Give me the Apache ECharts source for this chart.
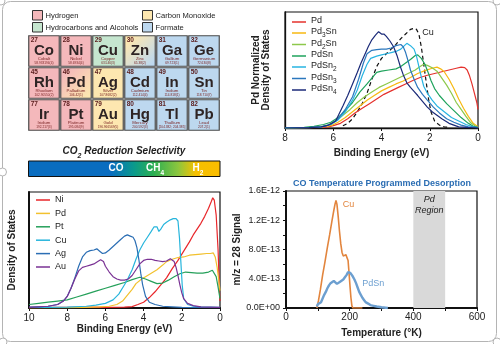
<!DOCTYPE html>
<html>
<head>
<meta charset="utf-8">
<script src="https://cdn.jsdelivr.net/npm/echarts@6/dist/echarts.min.js"></script>
<style>
html, body { margin: 0; padding: 0; background: #fff; }
#chart { width: 500px; height: 344px; }
</style>
</head>
<body>
<div id="chart"></div>
<script>
const FONT = '"Liberation Sans", Arial, sans-serif';

// ---------- Periodic table block ----------
const elementNumbers = [27, 28, 29, 30, 31, 32, 45, 46, 47, 48, 49, 50, 77, 78, 79, 80, 81, 82];
const elementSymbols = ['Co', 'Ni', 'Cu', 'Zn', 'Ga', 'Ge', 'Rh', 'Pd', 'Ag', 'Cd', 'In', 'Sn', 'Ir', 'Pt', 'Au', 'Hg', 'Tl', 'Pb'];
const elementNames = ['Cobalt', 'Nickel', 'Copper', 'Zinc', 'Gallium', 'Germanium', 'Rhodium', 'Palladium', 'Silver',
  'Cadmium', 'Indium', 'Tin', 'Iridium', 'Platinum', 'Gold', 'Mercury', 'Thallium', 'Lead'];
const elementMasses = ['58.933194(4)', '58.6934(4)', '63.546(3)', '65.38(2)', '69.723(1)', '72.630(8)',
  '102.90550(2)', '106.42(1)', '107.8682(2)', '112.414(4)', '114.818(1)', '118.710(7)',
  '192.217(3)', '195.084(9)', '196.966569(5)', '200.592(3)', '[204.382; 204.385]', '207.2(1)'];
const elementProducts = ['H2', 'H2', 'HC', 'CO/HCOO', 'HCOO', 'HCOO', 'H2', 'H2/CO', 'CO', 'HCOO', 'HCOO', 'HCOO',
  'H2', 'H2', 'CO', 'HCOO', 'HCOO', 'HCOO'];
const productColors = { H2: '#f4b8bb', HC: '#c5e6cf', CO: '#fde7b0', HCOO: '#bdd8ef' };
const productLegend = [['Hydrogen', 'H2'], ['Hydrocarbons and Alcohols', 'HC'], ['Carbon Monoxide', 'CO'], ['Formate', 'HCOO']];

// ---------- d-band density of states, pure metals (eV, a.u.) ----------
const metalNames = ['Ni', 'Pd', 'Pt', 'Cu', 'Ag', 'Au'];
const metalColors = ['#e8262a', '#f2c12e', '#25a05a', '#27b5dc', '#2b6eb4', '#7a3294'];
const niDos = [[10,0.5],[9,0.6],[8,0.5],[7,0.8],[6,0.6],[5,0.8],[4.6,1.2],[4.3,3],[4.0,5],[3.7,9],[3.4,14],[3.1,20],
  [2.8,26],[2.5,34],[2.2,41],[1.9,49],[1.6,57],[1.4,63],[1.2,68],[1.0,73],[0.8,79],[0.6,86],[0.45,92],[0.38,95],
  [0.3,93],[0.2,80],[0.1,50],[0.03,15],[0,6]];
const pdDos = [[10,0],[8,0.3],[7,0.5],[6.3,1],[5.8,1.5],[5.4,3],[5.1,6],[4.9,10],[4.6,16],[4.4,21],[4.1,25],[3.9,27],
  [3.6,30],[3.3,33],[3.0,37],[2.8,40],[2.5,42],[2.2,43.5],[1.9,44],[1.6,45.5],[1.3,46],[1.0,46.5],[0.7,47],[0.5,47],
  [0.35,47.5],[0.25,44],[0.15,35],[0.05,22],[0,15]];
const ptDos = [[10,3],[9.5,4],[9,5],[8.5,6],[8,7],[7.5,9.5],[7,12],[6.5,14.5],[6,17],[5.5,19.5],[5,22],[4.6,24.5],
  [4.2,26.5],[3.9,25],[3.6,23],[3.3,21],[3.0,21.5],[2.7,24],[2.4,27],[2.1,29.5],[1.8,31],[1.5,30.5],[1.2,30],
  [0.9,30],[0.6,31],[0.4,32.5],[0.3,32],[0.2,27],[0.1,18],[0,8]];
const cuDos = [[10,0.5],[9,0.5],[8,0.8],[7,1.5],[6.5,2.5],[6,4],[5.6,7],[5.3,12],[5.0,20],[4.8,26],[4.6,33],[4.4,42],
  [4.2,50],[4.0,56],[3.8,61],[3.6,66],[3.45,70],[3.3,70],[3.2,66],[3.1,68],[2.95,72],[2.8,74],[2.6,76],[2.45,77],
  [2.3,77],[2.2,75],[2.12,60],[2.05,40],[1.98,20],[1.9,8],[1.7,3],[1.4,1.5],[1.0,1],[0.5,0.8],[0,0.5]];
const agDos = [[10,0.5],[9.5,1],[9,1.5],[8.5,3],[8.2,6],[8.0,10],[7.8,17],[7.6,26],[7.4,36],[7.2,44],[7.0,48],
  [6.8,49.5],[6.6,50],[6.45,51],[6.3,49],[6.15,47],[6.0,47.5],[5.8,50],[5.6,53],[5.4,56],[5.2,59],[5.0,62],[4.85,63],
  [4.7,62],[4.55,61],[4.45,58],[4.35,52],[4.25,42],[4.15,30],[4.05,20],[3.9,10],[3.7,5],[3.4,3],[3.0,1.5],[2.5,1],
  [2,0.5],[0,0.3]];
const auDos = [[10,0.5],[9,1.5],[8.5,3],[8.2,6],[8.0,10],[7.8,17],[7.6,25],[7.4,32],[7.2,35],[7.0,36],[6.8,37],
  [6.6,38],[6.4,40],[6.25,41.5],[6.1,40],[6.0,36],[5.8,31],[5.6,27],[5.4,25],[5.2,24],[5.0,24],[4.8,25],[4.6,28],
  [4.4,33],[4.2,38],[4.0,41],[3.8,42],[3.6,42],[3.4,41],[3.2,40.5],[3.0,40],[2.8,40.5],[2.6,42.5],[2.5,43],[2.4,40],
  [2.3,35],[2.2,28],[2.1,20],[2.0,13],[1.9,8],[1.7,4],[1.4,2],[1.0,1],[0,0.5]];
const metalDos = [niDos, pdDos, ptDos, cuDos, agDos, auDos];

// ---------- Pd-normalized DOS of Pd–Sn alloys (eV, a.u.) ----------
const alloyNames = ['Pd', 'Pd3Sn', 'Pd2Sn', 'PdSn', 'PdSn2', 'PdSn3', 'PdSn4'];
const alloyColors = ['#e5322d', '#f7b912', '#8dc84b', '#1fa35c', '#27b4e2', '#2b77bd', '#1b2a78'];
const pdAlloyDos = [[8,0],[7,0.3],[6.5,0.5],[6.2,1],[6,2],[5.7,4],[5.4,8],[5.1,13],[4.8,17],[4.5,21],[4.2,25],[3.9,29],
  [3.6,32],[3.3,35],[3.0,38],[2.7,41],[2.4,43.5],[2.1,45.5],[1.8,47],[1.5,48.5],[1.2,50],[0.9,51.5],[0.7,52.5],
  [0.55,52],[0.45,50],[0.35,45],[0.25,38],[0.15,30],[0.05,22],[0,16]];
const pd3SnDos = [[8,0],[7,0.5],[6.5,1],[6.1,2],[5.8,5],[5.5,9],[5.2,14],[4.9,19],[4.6,24],[4.3,28],[4.0,32],[3.7,35],
  [3.4,38],[3.1,40.5],[2.8,43.5],[2.5,47],[2.2,49.5],[1.9,51.5],[1.7,52.5],[1.55,51],[1.4,48.5],[1.2,42],[1.0,34],
  [0.8,25],[0.6,17],[0.4,10],[0.2,4],[0,1]];
const pd2SnDos = [[8,0],[7,0.5],[6.5,1],[6.2,2.5],[5.9,6],[5.6,11],[5.3,16],[5.0,22],[4.7,27],[4.4,31],[4.1,35],[3.8,38],
  [3.5,41],[3.2,44],[2.9,47],[2.6,50],[2.4,53],[2.25,55],[2.1,54],[1.9,52],[1.7,49],[1.5,43],[1.3,37],[1.1,30],
  [0.9,22],[0.7,16],[0.5,10],[0.3,4.5],[0.1,1.5],[0,0.5]];
const pdSnDos = [[8,0],[7.2,0.5],[6.8,1.5],[6.4,3],[6.1,5],[5.8,9],[5.5,15],[5.2,22],[4.9,31],[4.6,38],[4.4,43],[4.2,48],
  [4.0,49],[3.7,50],[3.4,51],[3.2,53],[3.0,56],[2.8,59],[2.6,62.5],[2.5,63],[2.35,60],[2.2,55],[2.05,47],[1.95,41],
  [1.8,34],[1.6,28],[1.3,21],[1.0,15],[0.7,9],[0.4,4],[0.2,1.5],[0,0.5]];
const pdSn2Dos = [[8,0],[7,0.3],[6.5,1],[6.1,3],[5.8,7],[5.5,14],[5.2,24],[5.0,33],[4.8,45],[4.6,55],[4.45,60],[4.2,62],
  [4.0,63],[3.8,64],[3.6,65],[3.4,66],[3.2,68],[3.05,71],[2.95,73],[2.8,71],[2.65,68],[2.55,62],[2.45,53],[2.35,44],
  [2.25,36],[2.1,30],[1.9,24],[1.7,19],[1.4,14],[1.1,9],[0.8,6],[0.5,3],[0.2,1],[0,0.3]];
const pdSn3Dos = [[8,0],[7,0.3],[6.5,1],[6.1,3],[5.8,8],[5.5,16],[5.2,27],[4.95,42],[4.75,56],[4.6,64],[4.4,67],
  [4.2,67.5],[4.0,68],[3.8,68],[3.6,69],[3.4,71],[3.2,72],[3.1,70],[3.0,65],[2.9,58],[2.8,50],[2.65,42],[2.5,35],
  [2.3,29],[2.1,24],[1.85,18],[1.6,13],[1.3,8],[1.0,5],[0.7,2.5],[0.4,1],[0,0.3]];
const pdSn4Dos = [[8,0],[7,0.3],[6.5,1],[6.2,2.5],[5.9,6],[5.6,19],[5.4,28],[5.2,38],[5.0,48],[4.85,56],[4.7,63],
  [4.55,70],[4.4,76],[4.25,80],[4.12,83],[4.0,81],[3.9,81],[3.8,79],[3.65,75],[3.5,70],[3.35,62],[3.22,53],[3.1,46],
  [2.95,39],[2.8,35],[2.67,32],[2.5,28],[2.3,23],[2.1,18],[1.9,14],[1.7,11],[1.5,8],[1.2,4],[1.0,2.5],[0.8,1],
  [0.5,0.5],[0,0]];
const alloyDos = [pdAlloyDos, pd3SnDos, pd2SnDos, pdSnDos, pdSn2Dos, pdSn3Dos, pdSn4Dos];
const cuRefDos = [[5.6,2],[5.4,4],[5.2,8],[5.0,14],[4.8,21],[4.6,30],[4.4,42],[4.2,53],[4.0,60],[3.8,64],[3.6,68],
  [3.4,72],[3.2,77],[3.0,81],[2.8,85],[2.65,86],[2.55,85],[2.45,81],[2.35,70],[2.25,55],[2.15,40],[2.05,25],
  [1.95,14],[1.8,6],[1.6,2.5],[1.4,1],[1.2,0.5]];

// ---------- CO temperature programmed desorption (K, m/z = 28 signal) ----------
const cuTpd = [[97,0],[102,0.10e-12],[108,0.25e-12],[115,0.45e-12],[122,0.62e-12],[130,0.83e-12],[137,1.00e-12],
  [144,1.18e-12],[150,1.33e-12],[154,1.42e-12],[157,1.47e-12],[160,1.42e-12],[164,1.25e-12],[168,1.05e-12],
  [172,0.88e-12],[176,0.76e-12],[180,0.71e-12],[184,0.70e-12],[188,0.73e-12],[192,0.72e-12],[195,0.65e-12],
  [198,0.48e-12],[201,0.30e-12],[204,0.14e-12],[207,0.03e-12],[210,0],[240,0]];
const pdSnTpd = [[97,0.02e-12],[100,0.05e-12],[105,0.03e-12],[110,0.08e-12],[115,0.13e-12],[120,0.18e-12],
  [125,0.22e-12],[130,0.27e-12],[135,0.31e-12],[140,0.34e-12],[145,0.36e-12],[150,0.37e-12],[155,0.35e-12],
  [160,0.33e-12],[165,0.35e-12],[170,0.36e-12],[175,0.37e-12],[180,0.39e-12],[185,0.42e-12],[190,0.45e-12],
  [195,0.49e-12],[198,0.51e-12],[202,0.48e-12],[206,0.46e-12],[210,0.43e-12],[215,0.39e-12],[220,0.34e-12],
  [225,0.28e-12],[230,0.22e-12],[235,0.18e-12],[240,0.14e-12],[245,0.11e-12],[250,0.08e-12],[258,0.06e-12],
  [265,0.04e-12],[275,0.03e-12],[285,0.02e-12],[300,0.01e-12],[320,0]];
const pdRegion = [400, 500];

// ---------- helpers ----------
// turns "PdSn2" into rich text with the digits set as subscripts
function subscriptRich(label) {
  return label.replace(/(\D+)|(\d+)/g, (m, a, d) => (a ? '{a|' + a + '}' : '{s|' + d + '}'));
}
const richSub = {
  a: { fontSize: 9, lineHeight: 11, verticalAlign: 'top', color: '#222', fontFamily: FONT },
  s: { fontSize: 6.5, lineHeight: 6.5, padding: [4.5, 0, 0, 0], verticalAlign: 'top', color: '#222', fontFamily: FONT }
};
function sciLabel(v) {
  const parts = Number(v).toExponential(1).split('e');
  const exp = parseInt(parts[1], 10);
  const sign = exp < 0 ? '-' : '+';
  const mag = String(Math.abs(exp)).padStart(2, '0');
  return parts[0] + 'E' + sign + mag;
}
function richPair(color, size, subSize, italic) {
  const base = { fontWeight: 'bold', fontFamily: FONT, fill: color, color: color, verticalAlign: 'top' };
  if (italic) base.fontStyle = 'italic';
  return {
    t: Object.assign({ fontSize: size, lineHeight: size + 2 }, base),
    s: Object.assign({ fontSize: subSize, lineHeight: subSize, padding: [size * 0.62, 0, 0, 0] }, base)
  };
}

function renderElement(params, api) {
  const i = api.value(2);
  const c = api.coord([api.value(0), api.value(1)]);
  const sz = api.size([1, 1]);
  const w = sz[0] - 1.5, h = sz[1] - 1.5;
  const x = c[0] - w / 2, y = c[1] - h / 2;
  const kinds = elementProducts[i].split('/');
  let fill = productColors[kinds[0]];
  if (kinds.length > 1) {
    fill = new echarts.graphic.LinearGradient(0, 0, 1, 1, [
      { offset: 0.15, color: productColors[kinds[0]] },
      { offset: 0.9, color: productColors[kinds[1]] }
    ]);
  }
  const txt = (text, tx, ty, size, weight, color, align) => ({
    type: 'text',
    style: {
      text, x: tx, y: ty, fill: color, fontSize: size, fontWeight: weight, fontFamily: FONT,
      align, verticalAlign: 'middle', textAlign: align, textVerticalAlign: 'middle'
    }
  });
  return {
    type: 'group',
    children: [
      { type: 'rect', shape: { x, y, width: w, height: h }, style: { fill, stroke: '#4a4a4a', lineWidth: 1.2 } },
      txt(String(elementNumbers[i]), x + 2, y + 4.5, 6.5, 'bold', '#5a1c1c', 'left'),
      txt(elementSymbols[i], x + w / 2, y + 15, 15, 'bold', '#2e2424', 'center'),
      txt(elementNames[i], x + w / 2, y + 23.5, 4.3, 'normal', '#7a2424', 'center'),
      txt(elementMasses[i], x + w / 2, y + 27.3, 3.2, 'normal', '#7a2424', 'center')
    ]
  };
}

// ---------- decorative elements drawn with the graphic component ----------
const graphics = [];
// outer rounded frame with handles
graphics.push({ type: 'rect', shape: { x: 2.5, y: 1.5, width: 494, height: 340, r: 8 },
  style: { fill: 'none', stroke: '#b4b4b4', lineWidth: 1 }, silent: true });
[[1, 1], [497, 1], [2.5, 172], [3, 342], [497, 342]].forEach(p => {
  graphics.push({ type: 'circle', shape: { cx: p[0], cy: p[1], r: 4 },
    style: { fill: '#fff', stroke: '#b4b4b4', lineWidth: 1 }, silent: true });
});
// product legend of the periodic table
productLegend.forEach((item, k) => {
  const bx = k < 2 ? 32.5 : 142.5;
  const by = k % 2 === 0 ? 10.5 : 22.5;
  graphics.push({ type: 'rect', shape: { x: bx, y: by, width: 10, height: 9.5 },
    style: { fill: productColors[item[1]], stroke: '#333', lineWidth: 1 } });
  graphics.push({ type: 'text', style: { text: item[0], x: bx + 13, y: by + 5, fill: '#222', fontSize: 7.6,
    fontFamily: FONT, align: 'left', verticalAlign: 'middle', textAlign: 'left', textVerticalAlign: 'middle' } });
});
// selectivity colour bar
graphics.push({ type: 'text', style: {
  text: '{t|CO}{s|2}{t| Reduction Selectivity}', x: 124, y: 152, align: 'center', verticalAlign: 'middle',
  textAlign: 'center', textVerticalAlign: 'middle', rich: richPair('#222', 10, 7, true) } });
graphics.push({ type: 'rect', shape: { x: 28.5, y: 161, width: 191.5, height: 15.5 },
  style: { stroke: '#111', lineWidth: 1,
    fill: new echarts.graphic.LinearGradient(0, 0, 1, 0, [
      { offset: 0, color: '#0a6dc0' }, { offset: 0.43, color: '#0a6dc0' }, { offset: 0.55, color: '#0b9a8c' },
      { offset: 0.65, color: '#2aae52' }, { offset: 0.78, color: '#8cc63e' }, { offset: 0.87, color: '#f5c000' },
      { offset: 1, color: '#fbbd00' }
    ]) } });
[['{t|CO}', 116], ['{t|CH}{s|4}', 155], ['{t|H}{s|2}', 198]].forEach(l => {
  graphics.push({ type: 'text', style: { text: l[0], x: l[1], y: 169.5, align: 'center', verticalAlign: 'middle',
    textAlign: 'center', textVerticalAlign: 'middle', rich: richPair('#fff', 10, 6.5, false) } });
});
// TPD panel title
graphics.push({ type: 'text', style: { text: 'CO Temperature Programmed Desorption', x: 382, y: 184, fill: '#2a6db3',
  fontSize: 9, fontWeight: 'bold', fontFamily: FONT, align: 'center', verticalAlign: 'middle',
  textAlign: 'center', textVerticalAlign: 'middle' } });

// ---------- axes ----------
const axisText = { color: '#222', fontSize: 10, fontFamily: FONT };
const nameText = { color: '#222', fontSize: 10, fontWeight: 'bold', fontFamily: FONT };
const blackLine = w => ({ show: true, onZero: false, lineStyle: { color: '#111', width: w } });

const option = {
  backgroundColor: '#fff',
  animation: false,
  textStyle: { fontFamily: FONT },
  graphic: { elements: graphics },
  grid: [
    { left: 28, top: 35, width: 192, height: 96 },
    { left: 285, top: 12, width: 193, height: 116, show: true, borderColor: '#111', borderWidth: 1.2 },
    { left: 29, top: 192, width: 191, height: 116, show: true, borderColor: '#111', borderWidth: 1.2 },
    { left: 286, top: 191, width: 191, height: 117, show: true, borderColor: '#111', borderWidth: 1.2 }
  ],
  xAxis: [
    { type: 'category', gridIndex: 0, data: [0, 1, 2, 3, 4, 5], show: false },
    { type: 'value', gridIndex: 1, min: 0, max: 8, interval: 2, inverse: true,
      axisLine: blackLine(1.3), axisTick: { show: true, length: 3, lineStyle: { color: '#111' } },
      axisLabel: Object.assign({ margin: 5 }, axisText), splitLine: { show: false },
      name: 'Binding Energy (eV)', nameLocation: 'middle', nameGap: 20, nameTextStyle: nameText },
    { type: 'value', gridIndex: 2, min: 0, max: 10, interval: 2, inverse: true,
      axisLine: blackLine(2), axisTick: { show: true, length: 3, lineStyle: { color: '#111' } },
      axisLabel: Object.assign({ margin: 5 }, axisText), splitLine: { show: false },
      name: 'Binding Energy (eV)', nameLocation: 'middle', nameGap: 14, nameTextStyle: nameText },
    { type: 'value', gridIndex: 3, min: 0, max: 600, interval: 100,
      axisLine: blackLine(2), axisTick: { show: true, length: 3, lineStyle: { color: '#111' } },
      axisLabel: Object.assign({ margin: 4, formatter: v => (v % 200 === 0 ? String(v) : '') }, axisText),
      splitLine: { show: false },
      name: 'Temperature (°K)', nameLocation: 'middle', nameGap: 20, nameTextStyle: nameText }
  ],
  yAxis: [
    { type: 'category', gridIndex: 0, data: [0, 1, 2], inverse: true, show: false },
    { type: 'value', gridIndex: 1, min: 0, max: 100, axisLine: blackLine(1.3), axisTick: { show: false },
      axisLabel: { show: false }, splitLine: { show: false },
      name: 'Pd Normalized\nDensity of States', nameLocation: 'middle', nameGap: 14,
      nameTextStyle: Object.assign({ lineHeight: 10 }, nameText) },
    { type: 'value', gridIndex: 2, min: 0, max: 100, axisLine: blackLine(2), axisTick: { show: false },
      axisLabel: { show: false }, splitLine: { show: false },
      name: 'Density of States', nameLocation: 'middle', nameGap: 12, nameTextStyle: nameText },
    { type: 'value', gridIndex: 3, min: 0, max: 1.6e-12, interval: 4e-13,
      axisLine: blackLine(2), axisTick: { show: true, length: 3, lineStyle: { color: '#111' } },
      minorTick: { show: true, splitNumber: 2, length: 3, lineStyle: { color: '#111' } },
      axisLabel: Object.assign({ margin: 6, formatter: sciLabel }, axisText, { fontSize: 9 }),
      splitLine: { show: false },
      name: 'm/z = 28 Signal', nameLocation: 'middle', nameGap: 43, nameTextStyle: nameText }
  ],
  legend: [
    { data: metalNames, orient: 'vertical', left: 36, top: 194.5, icon: 'rect', itemWidth: 14, itemHeight: 1.5,
      itemGap: 2.4, padding: 0, selectedMode: false,
      textStyle: { fontSize: 9, color: '#222', lineHeight: 11, fontFamily: FONT } },
    { data: alloyNames.map(n => 'alloy ' + n), orient: 'vertical', left: 292, top: 16.5, icon: 'rect',
      itemWidth: 14, itemHeight: 1.5, itemGap: 0, padding: 0, selectedMode: false,
      formatter: n => subscriptRich(n.replace('alloy ', '')),
      textStyle: { fontSize: 9, color: '#222', lineHeight: 11, fontFamily: FONT, rich: richSub } }
  ],
  series: []
};

option.series.push({
  type: 'custom', name: 'elements', xAxisIndex: 0, yAxisIndex: 0, renderItem: renderElement, silent: true,
  data: elementSymbols.map((s, i) => [i % 6, Math.floor(i / 6), i])
});

metalNames.forEach((n, k) => {
  option.series.push({ type: 'line', name: n, xAxisIndex: 2, yAxisIndex: 2, data: metalDos[k],
    symbol: 'none', showSymbol: false, lineStyle: { color: metalColors[k], width: 1.2 },
    itemStyle: { color: metalColors[k] }, z: 3 });
});

option.series.push({ type: 'line', name: 'alloy Cu reference', xAxisIndex: 1, yAxisIndex: 1, data: cuRefDos,
  symbol: 'none', showSymbol: false, lineStyle: { color: '#111', width: 1.2, type: [4, 3] },
  itemStyle: { color: '#111' },
  markPoint: { symbol: 'circle', symbolSize: 0, silent: true,
    label: { show: true, position: 'inside', formatter: 'Cu', color: '#222', fontSize: 9, fontFamily: FONT },
    data: [{ coord: [2.07, 82] }] } });
alloyNames.forEach((n, k) => {
  option.series.push({ type: 'line', name: 'alloy ' + n, xAxisIndex: 1, yAxisIndex: 1, data: alloyDos[k],
    symbol: 'none', showSymbol: false, lineStyle: { color: alloyColors[k], width: 1.2 },
    itemStyle: { color: alloyColors[k] }, z: 3 });
});

option.series.push({ type: 'line', name: 'TPD Cu', xAxisIndex: 3, yAxisIndex: 3, data: cuTpd,
  symbol: 'none', showSymbol: false, lineStyle: { color: '#e2853e', width: 1.6 }, itemStyle: { color: '#e2853e' },
  markArea: { silent: true, itemStyle: { color: '#d9d9d9' },
    label: { show: true, position: 'insideTop', distance: 3, formatter: 'Pd\nRegion', color: '#222', fontSize: 9,
      fontStyle: 'italic', fontFamily: FONT, lineHeight: 11 },
    data: [[{ xAxis: pdRegion[0] }, { xAxis: pdRegion[1] }]] },
  markPoint: { symbol: 'circle', symbolSize: 0, silent: true,
    label: { show: true, position: 'inside', formatter: 'Cu', color: '#e2853e', fontSize: 9, fontFamily: FONT },
    data: [{ coord: [196, 1.41e-12] }] } });
option.series.push({ type: 'line', name: 'TPD PdSn', xAxisIndex: 3, yAxisIndex: 3, data: pdSnTpd,
  symbol: 'none', showSymbol: false, lineStyle: { color: '#6c9fd0', width: 2.4 }, itemStyle: { color: '#6c9fd0' },
  markPoint: { symbol: 'circle', symbolSize: 0, silent: true,
    label: { show: true, position: 'inside', formatter: 'PdSn', color: '#6c9fd0', fontSize: 9, fontFamily: FONT },
    data: [{ coord: [274, 0.34e-12] }] } });

const chart = echarts.init(document.getElementById('chart'));
chart.setOption(option);
</script>
</body>
</html>
